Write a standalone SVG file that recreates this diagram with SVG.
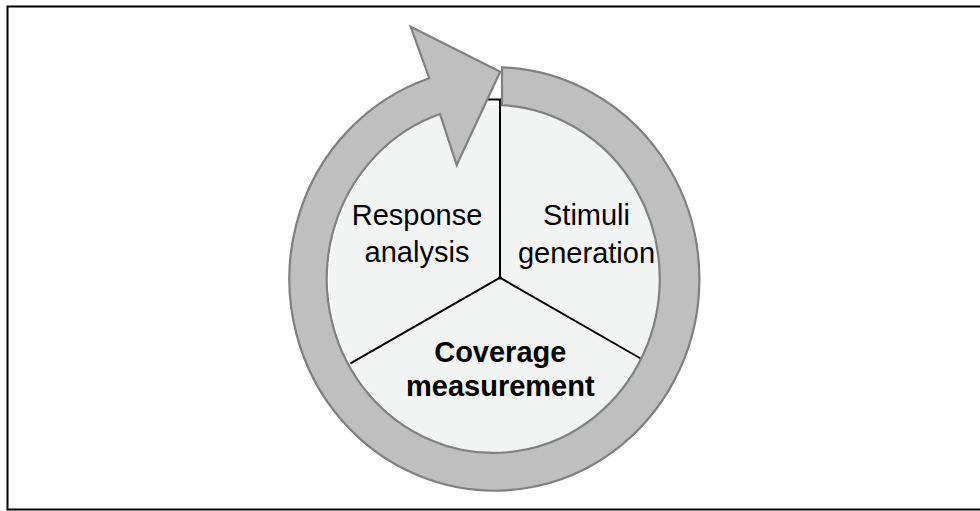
<svg xmlns="http://www.w3.org/2000/svg" width="980" height="511" viewBox="0 0 980 511">
<style>
.lbl{font-family:"Liberation Sans",Arial,sans-serif;font-size:29px;fill:#000;text-anchor:middle}
.b{font-weight:bold}
.div{stroke:#000;stroke-width:2;fill:none}
</style>
<rect x="0" y="0" width="980" height="511" fill="#fff"/>
<rect x="7.5" y="6.5" width="980" height="503" fill="none" stroke="#000" stroke-width="2"/>
<g id="disc">
<ellipse cx="495.7" cy="279" rx="166.5" ry="174" fill="#f2f3f3"/>
</g>
<g id="connectors">
<path class="div" d="M488,99.5 H500 V277.7"/>
<path class="div" d="M350.5,363.3 L500,277.7 L645,361"/>
<circle cx="500" cy="277.7" r="1.8" fill="#000"/>
</g>
<g id="cycle-arrow">
<path d="M502,67.4 A205 211.7 0 1 1 429.3,78.2 L410.7,26.7 L500.2,71.7 L456.7,165 L440,114 A166.5 174 0 1 0 502,105.1 Z" fill="#bfbfbf" stroke="#808080" stroke-width="2.2" stroke-linejoin="miter"/>
</g>
<g id="response-analysis">
<text class="lbl" x="417" y="224.5">Response</text>
<text class="lbl" x="417" y="262.3">analysis</text>
</g>
<g id="stimuli-generation">
<text class="lbl" x="586.5" y="225">Stimuli</text>
<text class="lbl" x="586.5" y="263.3">generation</text>
</g>
<g id="coverage-measurement">
<text class="lbl b" x="500.3" y="361.7">Coverage</text>
<text class="lbl b" x="500.3" y="396">measurement</text>
</g>
</svg>
